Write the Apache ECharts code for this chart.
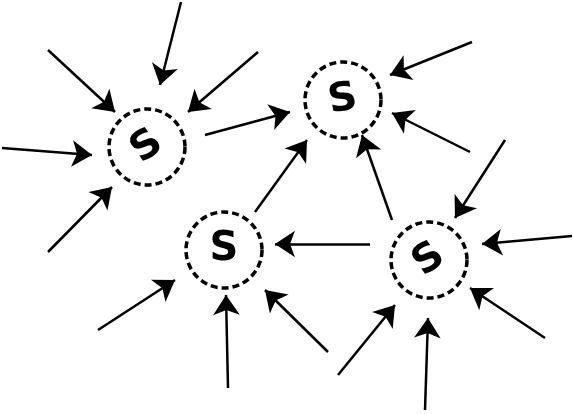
<!DOCTYPE html>
<html><head><meta charset="utf-8">
<script src="https://cdn.jsdelivr.net/npm/echarts@6/dist/echarts.min.js"></script>
<style>html,body{margin:0;padding:0;background:#fff}#c{width:573px;height:414px}</style>
</head><body><div id="c"></div>
<script>
// S nodes: [x, y, labelRotate]
const sNodes = [[147,147,35],[343,100,10],[224,250,0],[429,260,35]];
// arrows: [x1,y1,x2,y2] (tail -> head)
const arrows = [
 [48,50,115,112],[181,2,160,85],[258,52,188,112],[2,148,92,155],[48,252,112,187],
 [205,135,290,112],
 [472,42,390,75],[470,152,392,113],[255,212,307,140],[392,220,362,135],
 [370,244,275,244],[98,330,175,280],[228,388,226,295],[328,352,265,290],
 [505,140,455,218],[572,236,482,244],[545,338,470,288],[338,375,395,305],[425,410,428,318]
];
const nodes = [], links = [];
sNodes.forEach((s,i)=>nodes.push({name:'S'+i,value:[s[0],s[1]],symbolSize:76,
  itemStyle:{color:'#fff',borderColor:'#000',borderWidth:3.5,borderType:[7,4]},
  label:{show:true,formatter:'S',position:'inside',fontSize:40,fontWeight:'bold',fontFamily:'DejaVu Sans',color:'#000',rotate:s[2]}}));
arrows.forEach((a,i)=>{
  nodes.push({name:'t'+i,value:[a[0],a[1]],symbolSize:0});
  nodes.push({name:'h'+i,value:[a[2],a[3]],symbolSize:0});
  links.push({source:'t'+i,target:'h'+i});
});
const chart = echarts.init(document.getElementById('c'));
chart.setOption({
  animation:false,
  grid:{left:0,right:0,top:0,bottom:0},
  xAxis:{type:'value',min:0,max:573,show:false},
  yAxis:{type:'value',min:0,max:414,inverse:true,show:false},
  series:[{type:'graph',coordinateSystem:'cartesian2d',data:nodes,links:links,
    edgeSymbol:['none','arrow'],edgeSymbolSize:[0,20],
    lineStyle:{color:'#000',width:2.5,opacity:1},
    label:{show:false},emphasis:{disabled:true}}]
});
</script></body></html>
